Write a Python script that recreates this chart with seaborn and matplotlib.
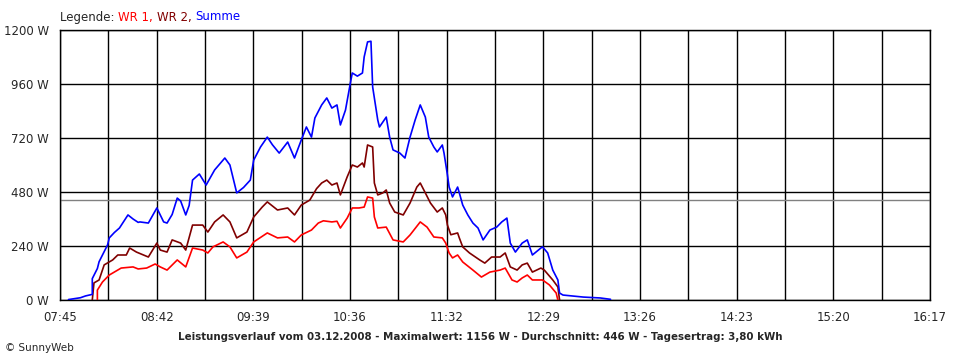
import numpy as np
import pandas as pd
import matplotlib
matplotlib.use("Agg")
import matplotlib.pyplot as plt
import seaborn as sns

# Summe (blue)
summe_t = ["07:50", "07:57", "08:00", "08:04", "08:04", "08:07", "08:08", "08:11", "08:13", "08:14",
           "08:17", "08:20", "08:25", "08:28", "08:31", "08:32", "08:37", "08:42", "08:46", "08:48",
           "08:51", "08:54", "08:56", "08:59", "09:01", "09:03", "09:07", "09:11", "09:16", "09:22",
           "09:25", "09:29", "09:33", "09:37", "09:39", "09:43", "09:47", "09:50", "09:54", "09:59",
           "10:03", "10:07", "10:10", "10:13", "10:15", "10:19", "10:22", "10:25", "10:28", "10:30",
           "10:33", "10:36", "10:37", "10:40", "10:43", "10:44", "10:46", "10:48", "10:49", "10:52",
           "10:53", "10:57", "10:59", "11:01", "11:05", "11:08", "11:11", "11:14", "11:17", "11:20",
           "11:22", "11:25", "11:27", "11:30", "11:31", "11:33", "11:34", "11:36", "11:39", "11:40",
           "11:42", "11:45", "11:48", "11:51", "11:54", "11:58", "12:02", "12:05", "12:08", "12:10",
           "12:13", "12:17", "12:20", "12:23", "12:28", "12:29", "12:32", "12:35", "12:38", "12:39",
           "12:41", "12:53", "13:03", "13:09"]
summe_w = [2, 10, 18, 25, 95, 140, 170, 215, 245, 276,
           300, 320, 378, 360, 345, 347, 342, 409, 347, 342,
           380, 453, 440, 378, 420, 533, 560, 511, 578, 631,
           600, 476, 500, 533, 622, 680, 724, 690, 653, 702,
           631, 711, 769, 724, 809, 867, 898, 853, 867, 778,
           844, 969, 1009, 995, 1009, 1080, 1147, 1150, 947, 800,
           769, 813, 724, 667, 653, 631, 724, 800, 867, 813,
           724, 680, 658, 689, 653, 556, 502, 458, 502, 476,
           422, 378, 342, 320, 267, 311, 324, 347, 364, 253,
           213, 253, 267, 200, 231, 236, 209, 133, 89, 31,
           22, 13, 9, 3]

# WR 2 (dark red)
wr2_t = ["08:04", "08:05", "08:08", "08:11", "08:16", "08:19", "08:24", "08:26", "08:30", "08:37",
         "08:42", "08:44", "08:48", "08:51", "08:56", "08:59", "09:03", "09:09", "09:12", "09:16",
         "09:21", "09:25", "09:29", "09:35", "09:39", "09:44", "09:47", "09:53", "09:59", "10:03",
         "10:07", "10:12", "10:16", "10:19", "10:22", "10:25", "10:28", "10:30", "10:34", "10:37",
         "10:40", "10:43", "10:44", "10:46", "10:49", "10:50", "10:52", "10:55", "10:57", "10:59",
         "11:02", "11:07", "11:11", "11:15", "11:17", "11:20", "11:23", "11:27", "11:30", "11:32",
         "11:33", "11:35", "11:39", "11:40", "11:42", "11:46", "11:52", "11:55", "11:59", "12:04",
         "12:07", "12:10", "12:14", "12:17", "12:20", "12:23", "12:28", "12:30", "12:35", "12:38",
         "12:39"]
wr2_w = [0, 76, 89, 156, 178, 200, 200, 231, 213, 191,
         253, 222, 213, 267, 253, 222, 333, 333, 302, 347,
         378, 347, 276, 302, 369, 413, 436, 400, 409, 378,
         422, 444, 495, 520, 533, 511, 520, 467, 547, 600,
         591, 609, 591, 689, 680, 520, 467, 476, 489, 431,
         391, 378, 431, 502, 520, 476, 431, 391, 409, 378,
         333, 290, 298, 276, 236, 209, 178, 164, 191, 191,
         209, 147, 133, 156, 164, 124, 142, 133, 89, 58,
         0]

# WR 1 (red)
wr1_t = ["08:07", "08:07", "08:10", "08:14", "08:21", "08:28", "08:31", "08:36", "08:41", "08:44",
         "08:48", "08:54", "08:59", "09:03", "09:09", "09:12", "09:15", "09:21", "09:25", "09:29",
         "09:35", "09:39", "09:47", "09:53", "09:59", "10:03", "10:07", "10:13", "10:17", "10:20",
         "10:25", "10:28", "10:30", "10:34", "10:37", "10:41", "10:44", "10:46", "10:49", "10:50",
         "10:52", "10:57", "11:01", "11:07", "11:11", "11:17", "11:21", "11:25", "11:30", "11:32",
         "11:34", "11:36", "11:39", "11:42", "11:48", "11:53", "11:58", "12:04", "12:07", "12:11",
         "12:14", "12:17", "12:20", "12:23", "12:29", "12:33", "12:37", "12:38"]
wr1_w = [0, 44, 80, 111, 142, 147, 138, 142, 160, 147,
         133, 178, 147, 231, 222, 209, 236, 258, 236, 187,
         213, 258, 298, 276, 280, 258, 289, 311, 342, 352,
         347, 350, 320, 364, 409, 409, 413, 458, 453, 369,
         320, 324, 267, 258, 289, 347, 324, 280, 276, 253,
         209, 187, 200, 169, 133, 102, 124, 133, 142, 89,
         80, 98, 111, 89, 89, 67, 31, 0]

durchschnitt = 446
x_labels = ["07:45", "08:42", "09:39", "10:36", "11:32", "12:29", "13:26", "14:23", "15:20", "16:17"]
y_ticks = [0, 240, 480, 720, 960, 1200]

def to_min(times):
    return pd.to_timedelta([t + ":00" for t in times]).total_seconds() / 60

df = pd.concat([
    pd.DataFrame({"t": to_min(wr1_t), "W": wr1_w, "serie": "WR 1"}),
    pd.DataFrame({"t": to_min(wr2_t), "W": wr2_w, "serie": "WR 2"}),
    pd.DataFrame({"t": to_min(summe_t), "W": summe_w, "serie": "Summe"}),
])
colors = {"WR 1": "#ff0000", "WR 2": "#800000", "Summe": "#0000ff"}

sns.set_style("white")
plt.rcParams["font.family"] = ["DejaVu Sans"]

fig = plt.figure(figsize=(9.6, 3.6), dpi=100)
ax = fig.add_axes([60 / 960, 60 / 360, 870 / 960, 270 / 360])

x0, x1 = 465, 977
ticks = np.linspace(x0, x1, 19)
ax.set_xlim(x0, x1)
ax.set_ylim(0, 1200)
ax.set_xticks(ticks)
ax.set_xticklabels([x_labels[i // 2] if i % 2 == 0 else "" for i in range(19)])
ax.set_yticks(y_ticks)
ax.set_yticklabels([f"{v} W" for v in y_ticks])
ax.grid(True, color="black", lw=1)
ax.set_axisbelow(True)
ax.axhline(durchschnitt, color="#808080", lw=1, zorder=1)

sns.lineplot(data=df, x="t", y="W", hue="serie", palette=colors, estimator=None,
             sort=False, units="serie", lw=1.2, legend=False, ax=ax, zorder=3)

for s in ax.spines.values():
    s.set_color("black")
    s.set_linewidth(1)
ax.tick_params(axis="both", direction="out", length=5, width=1, color="black",
               labelsize=8.5, pad=3)
ax.set_xlabel("")
ax.set_ylabel("")

# legend as coloured text pieces
prev = fig.text(60 / 960, 1 - 17 / 360, "Legende: ", fontsize=8.5, va="center")
for txt, c in [("WR 1, ", colors["WR 1"]), ("WR 2, ", colors["WR 2"]), ("Summe", colors["Summe"])]:
    prev = ax.annotate(txt, xy=(1, 0), xycoords=prev, va="bottom", ha="left",
                       fontsize=8.5, color=c, annotation_clip=False)

fig.text(480 / 960, 1 - 337 / 360,
         "Leistungsverlauf vom 03.12.2008 - Maximalwert: 1156 W - Durchschnitt: 446 W - Tagesertrag: 3,80 kWh",
         fontsize=7.4, fontweight="bold", ha="center", va="center")
fig.text(5 / 960, 1 - 348 / 360, "© SunnyWeb", fontsize=7.5, va="center")

fig.savefig("out.png", dpi=100)
